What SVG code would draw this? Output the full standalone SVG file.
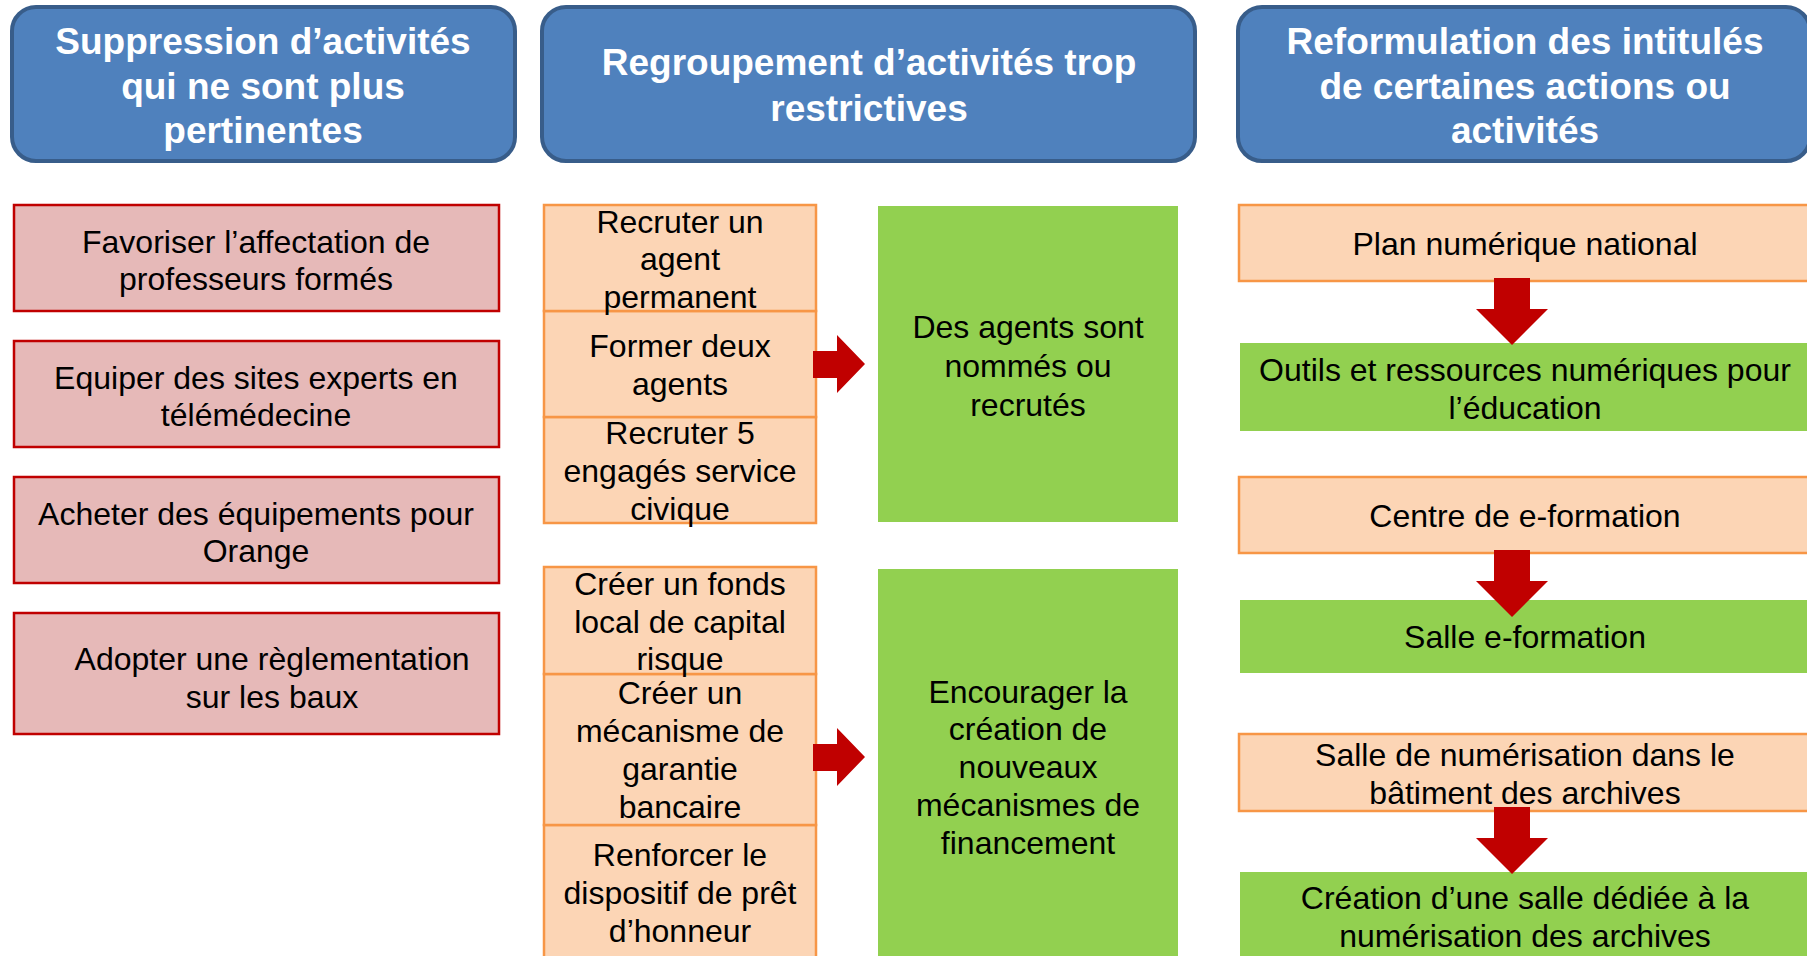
<svg xmlns="http://www.w3.org/2000/svg" width="1807" height="956" viewBox="0 0 1807 956">
<style>
.hdr{fill:#4F81BD;stroke:#385D8A;stroke-width:4}
.ht{font-family:"Liberation Sans",Arial,sans-serif;font-weight:bold;font-size:37px;fill:#FFFFFF;text-anchor:middle}
.red{fill:#E6B9B8;stroke:#C00000;stroke-width:2.5}
.org{fill:#FCD5B5;stroke:#F79646;stroke-width:2.5}
.grn{fill:#92D050}
.t{font-family:"Liberation Sans",Arial,sans-serif;font-size:32px;fill:#000000;text-anchor:middle}
.arr{fill:#C00000}
</style>
<rect width="1807" height="956" fill="#FFFFFF"/>
<g id="header-suppression">
<rect class="hdr" x="12" y="7" width="503" height="154" rx="24"/>
<text class="ht" x="263" y="54">Suppression d’activités</text>
<text class="ht" x="263" y="99">qui ne sont plus</text>
<text class="ht" x="263" y="143">pertinentes</text>
</g>
<g id="header-regroupement">
<rect class="hdr" x="542" y="7" width="653" height="154" rx="24"/>
<text class="ht" x="869" y="75">Regroupement d’activités trop</text>
<text class="ht" x="869" y="121">restrictives</text>
</g>
<g id="header-reformulation">
<rect class="hdr" x="1238" y="7" width="572" height="154" rx="24"/>
<text class="ht" x="1525" y="54">Reformulation des intitulés</text>
<text class="ht" x="1525" y="99">de certaines actions ou</text>
<text class="ht" x="1525" y="143">activités</text>
</g>
<g id="sup-1">
<rect class="red" x="14" y="205" width="485" height="106"/>
<text class="t" x="256" y="253">Favoriser l’affectation de</text>
<text class="t" x="256" y="290">professeurs formés</text>
</g>
<g id="sup-2">
<rect class="red" x="14" y="341" width="485" height="106"/>
<text class="t" x="256" y="389">Equiper des sites experts en</text>
<text class="t" x="256" y="426">télémédecine</text>
</g>
<g id="sup-3">
<rect class="red" x="14" y="477" width="485" height="106"/>
<text class="t" x="256" y="525">Acheter des équipements pour</text>
<text class="t" x="256" y="562">Orange</text>
</g>
<g id="sup-4">
<rect class="red" x="14" y="613" width="485" height="121"/>
<text class="t" x="272" y="670">Adopter une règlementation</text>
<text class="t" x="272" y="708">sur les baux</text>
</g>
<g id="reg-1c">
<rect class="org" x="544" y="417" width="272" height="106"/>
<text class="t" x="680" y="444">Recruter 5</text>
<text class="t" x="680" y="482">engagés service</text>
<text class="t" x="680" y="520">civique</text>
</g>
<g id="reg-1b">
<rect class="org" x="544" y="311" width="272" height="106"/>
<text class="t" x="680" y="357">Former deux</text>
<text class="t" x="680" y="395">agents</text>
</g>
<g id="reg-1a">
<rect class="org" x="544" y="205" width="272" height="106"/>
<text class="t" x="680" y="233">Recruter un</text>
<text class="t" x="680" y="270">agent</text>
<text class="t" x="680" y="308">permanent</text>
</g>
<g id="reg-1-result">
<rect class="grn" x="878" y="206" width="300" height="316"/>
<text class="t" x="1028" y="338">Des agents sont</text>
<text class="t" x="1028" y="377">nommés ou</text>
<text class="t" x="1028" y="416">recrutés</text>
</g>
<g id="reg-2c">
<rect class="org" x="544" y="825" width="272" height="135"/>
<text class="t" x="680" y="866">Renforcer le</text>
<text class="t" x="680" y="904">dispositif de prêt</text>
<text class="t" x="680" y="942">d’honneur</text>
</g>
<g id="reg-2b">
<rect class="org" x="544" y="674" width="272" height="151"/>
<text class="t" x="680" y="704">Créer un</text>
<text class="t" x="680" y="742">mécanisme de</text>
<text class="t" x="680" y="780">garantie</text>
<text class="t" x="680" y="818">bancaire</text>
</g>
<g id="reg-2a">
<rect class="org" x="544" y="567" width="272" height="107"/>
<text class="t" x="680" y="595">Créer un fonds</text>
<text class="t" x="680" y="633">local de capital</text>
<text class="t" x="680" y="670">risque</text>
</g>
<g id="reg-2-result">
<rect class="grn" x="878" y="569" width="300" height="392"/>
<text class="t" x="1028" y="703">Encourager la</text>
<text class="t" x="1028" y="740">création de</text>
<text class="t" x="1028" y="778">nouveaux</text>
<text class="t" x="1028" y="816">mécanismes de</text>
<text class="t" x="1028" y="854">financement</text>
</g>
<g id="ref-1-old">
<rect class="org" x="1239" y="205" width="575" height="76"/>
<text class="t" x="1525" y="255">Plan numérique national</text>
</g>
<g id="ref-1-new">
<rect class="grn" x="1240" y="343" width="575" height="88"/>
<text class="t" x="1525" y="381">Outils et ressources numériques pour</text>
<text class="t" x="1525" y="419">l’éducation</text>
</g>
<g id="ref-2-old">
<rect class="org" x="1239" y="477" width="575" height="76"/>
<text class="t" x="1525" y="527">Centre de e-formation</text>
</g>
<g id="ref-2-new">
<rect class="grn" x="1240" y="600" width="575" height="73"/>
<text class="t" x="1525" y="648">Salle e-formation</text>
</g>
<g id="ref-3-old">
<rect class="org" x="1239" y="734" width="575" height="77"/>
<text class="t" x="1525" y="766">Salle de numérisation dans le</text>
<text class="t" x="1525" y="804">bâtiment des archives</text>
</g>
<g id="ref-3-new">
<rect class="grn" x="1240" y="872" width="575" height="90"/>
<text class="t" x="1525" y="909">Création d’une salle dédiée à la</text>
<text class="t" x="1525" y="947">numérisation des archives</text>
</g>
<g id="connectors">
<polygon class="arr" points="813,351 837,351 837,335 865,364 837,393 837,378 813,378"/>
<polygon class="arr" points="813,744 837,744 837,728 865,757 837,786 837,771 813,771"/>
<polygon class="arr" points="1494,278 1530,278 1530,309 1548,309 1512,345 1476,309 1494,309"/>
<polygon class="arr" points="1494,550 1530,550 1530,581 1548,581 1512,617 1476,581 1494,581"/>
<polygon class="arr" points="1494,807 1530,807 1530,838 1548,838 1512,874 1476,838 1494,838"/>
</g>
</svg>
